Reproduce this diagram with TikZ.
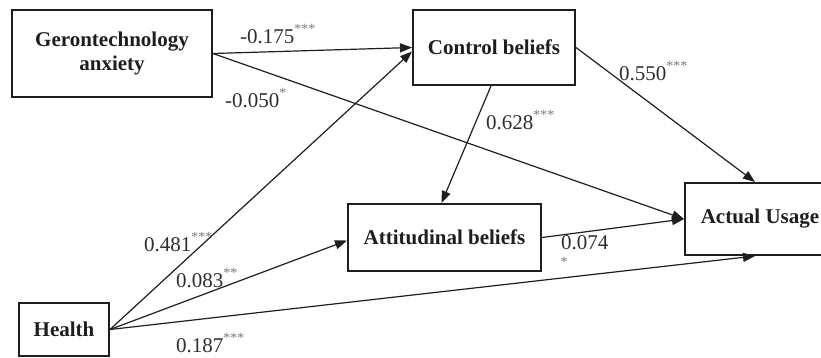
\documentclass[tikz,border=0pt]{standalone}
\usepackage{fontspec}
\setmainfont{Liberation Serif}
\usetikzlibrary{arrows.meta}
\definecolor{txt}{HTML}{1E1E1E}
\definecolor{num}{HTML}{2E2E2E}
\definecolor{star}{HTML}{7A7A7A}
\newcommand{\stars}[1]{\raisebox{0.95ex}{\fontsize{14}{14}\selectfont\color{star}#1}}
\tikzset{
  box/.style={draw=txt, line width=2pt, inner sep=0pt, font=\fontsize{21}{24}\selectfont\bfseries, text=txt, align=center},
  arr/.style={draw=txt, line width=1.2pt, -{Triangle[length=12pt,width=9pt]}},
  lab/.style={inner sep=0pt, anchor=base west, font=\fontsize{21}{24}\selectfont, text=num}
}
\begin{document}
\begin{tikzpicture}[x=1pt,y=-1pt]
\useasboundingbox (0,0) rectangle (821,357);
\node[box, minimum width=200pt, minimum height=87pt] (geo) at (112,53.5) {Gerontechnology\\anxiety};
\node[box, minimum width=162pt, minimum height=75pt] (ctrl) at (494,47.5) {Control beliefs};
\node[box, minimum width=193pt, minimum height=67pt] (att) at (444.5,237.5) {Attitudinal beliefs};
\node[box, minimum width=90pt, minimum height=53pt] (hl) at (64,329.5) {Health};
\node[box, minimum width=150pt, minimum height=72pt] (au) at (760,219) {Actual Usage};

\draw[arr] (geo.east) -- (ctrl.west);
\draw[arr] (geo.east) -- (au.west);
\draw[arr] (hl.east) -- ([yshift=-4pt]ctrl.west);
\draw[arr] (hl.east) -- ([yshift=-3pt]att.west);
\draw[arr] (hl.east) -- ([xshift=-5pt]au.south);
\draw[arr] ([xshift=-3pt]ctrl.south) -- ([xshift=-3pt]att.north);
\draw[arr] (ctrl.east) -- ([xshift=-5pt]au.north);
\draw[arr] (att.east) -- (au.west);

\node[lab] (l1) at (240,43) {-0.175\stars{***}};
\node[lab] (l2) at (225,107) {-0.050\stars{*}};
\node[lab] (l3) at (619,80) {0.550\stars{***}};
\node[lab] (l4) at (486,129) {0.628\stars{***}};
\node[lab] (l5) at (144,251) {0.481\stars{***}};
\node[lab] (l6) at (176,287) {0.083\stars{**}};
\node[lab] (l7) at (176,352) {0.187\stars{***}};
\node[lab] (l8) at (561,249) {0.074};
\node[inner sep=0pt, font=\fontsize{14}{14}\selectfont, text=star] (l8s) at (564,262) {*};
\end{tikzpicture}
\end{document}
